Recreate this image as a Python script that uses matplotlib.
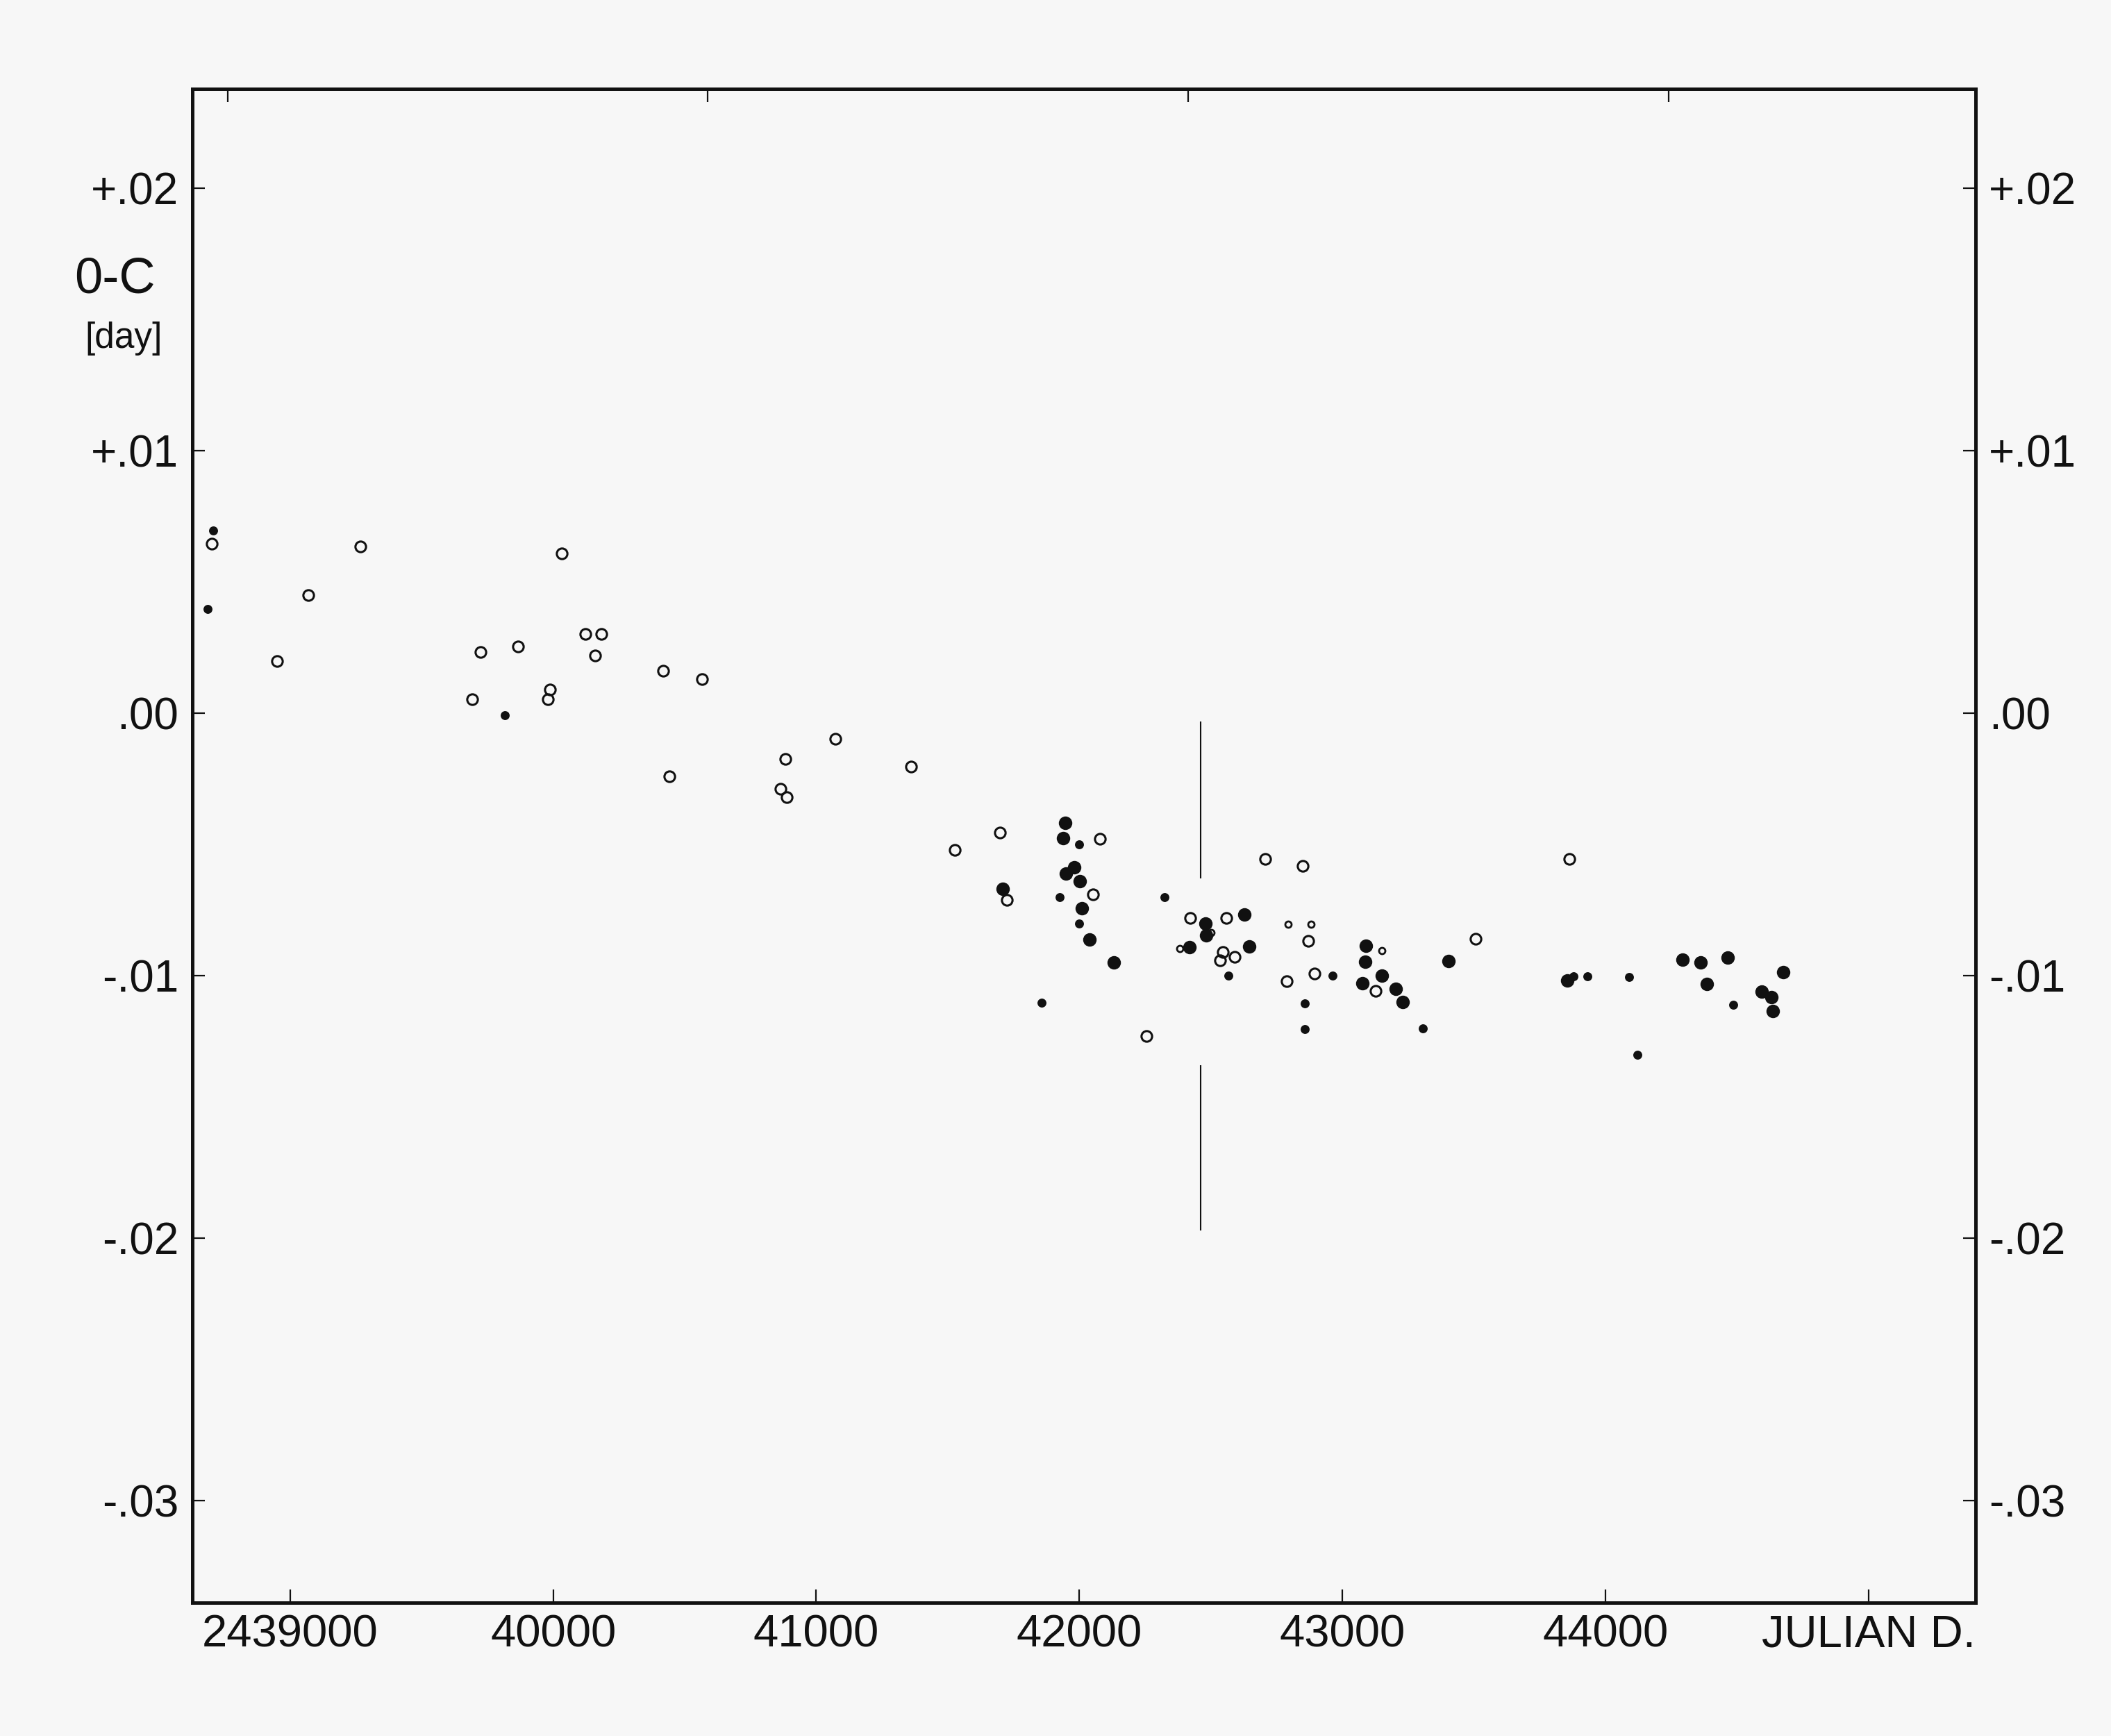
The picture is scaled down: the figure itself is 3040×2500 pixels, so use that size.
import matplotlib
matplotlib.use('Agg')
import matplotlib.pyplot as plt
from matplotlib import font_manager

# O-C residuals [day] against Julian date (JD - 2400000)
# open circles
open_jd = [38701, 39266, 39070, 38951, 39723, 39867, 39691, 39987, 39979, 40033,
           40122, 40182, 40160, 40419, 40566, 40441, 41072, 40882, 40864, 40887,
           41360, 41527, 41698, 41724, 42078, 42053, 42422, 42560, 42545, 42535,
           42591, 42255, 42707, 42850, 42870, 42894, 42789, 43127, 43506, 43863]
open_oc = [0.00645, 0.00635, 0.00450, 0.00198, 0.00233, 0.00254, 0.00054, 0.00091, 0.00054, 0.00610,
           0.00302, 0.00302, 0.00220, 0.00162, 0.00131, -0.00240, -0.00096, -0.00175, -0.00287, -0.00320,
           -0.00203, -0.00520, -0.00453, -0.00711, -0.00478, -0.00690, -0.00780, -0.00780, -0.00910, -0.00942,
           -0.00929, -0.01229, -0.00556, -0.00582, -0.00867, -0.00991, -0.01020, -0.01057, -0.00859, -0.00556]

# small open circles
open_small_jd = [42501, 42383, 42795, 42880, 43151]
open_small_oc = [-0.00836, -0.00896, -0.00804, -0.00804, -0.00904]

# large dots
filled_jd = [41710, 41946, 41938, 41981, 41949, 42002, 42009, 42040, 42132, 42479,
             42483, 42418, 42627, 42647, 43090, 43088, 43151, 43076, 43203, 43229,
             43404, 43854, 44294, 44362, 44466, 44386, 44595, 44630, 44637, 44677]
filled_oc = [-0.00669, -0.00418, -0.00475, -0.00586, -0.00611, -0.00639, -0.00742, -0.00861, -0.00948, -0.00802,
             -0.00845, -0.00892, -0.00766, -0.00889, -0.00885, -0.00947, -0.01000, -0.01028, -0.01050, -0.01101,
             -0.00944, -0.01017, -0.00939, -0.00948, -0.00930, -0.01032, -0.01060, -0.01081, -0.01134, -0.00986]

# small dots
filled_small_jd = [38707, 38686, 39815, 41999, 41926, 42000, 41857, 42323, 42566, 42963,
                   42857, 42857, 43307, 43879, 43932, 44089, 44122, 44487]
filled_small_oc = [0.00696, 0.00397, -0.00006, -0.00499, -0.00699, -0.00801, -0.01103, -0.00700, -0.00999, -0.00998,
                   -0.01104, -0.01204, -0.01200, -0.01002, -0.01002, -0.01004, -0.01301, -0.01110]

# vertical marker line (broken around the data)
vline_jd = 42461
vline_top = [-0.0003, -0.0134]
vline_bottom = [-0.0063, -0.0197]

x_ticks = [39000, 40000, 41000, 42000, 43000, 44000, 45000]
x_tick_labels = ['2439000', '40000', '41000', '42000', '43000', '44000', 'JULIAN D.']
y_ticks = [0.02, 0.01, 0.0, -0.01, -0.02, -0.03]
y_tick_labels = ['+.02', '+.01', '.00', '-.01', '-.02', '-.03']
# unlabelled ticks on the top edge: 1965, 1970, 1975, 1980 (Jan 1)
top_ticks = [38761.5, 40587.5, 42413.5, 44239.5]

installed = {f.name for f in font_manager.fontManager.ttflist}
font = 'Liberation Sans' if 'Liberation Sans' in installed else 'DejaVu Sans'
plt.rcParams['font.family'] = [font, 'DejaVu Sans']

ink = '#111111'
paper = '#f7f7f7'

fig = plt.figure(figsize=(30.4, 25), dpi=100, facecolor=paper)
ax = fig.add_axes([0.0911, 0.0768, 0.8447, 0.872], facecolor=paper)

ax.plot(open_jd, open_oc, 'o', ls='none', ms=11, mfc='none', mec=ink, mew=2.2)
ax.plot(open_small_jd, open_small_oc, 'o', ls='none', ms=6.5, mfc='none', mec=ink, mew=2.0)
ax.plot(filled_jd, filled_oc, 'o', ls='none', ms=14, mfc=ink, mec=ink, mew=0)
ax.plot(filled_small_jd, filled_small_oc, 'o', ls='none', ms=9.3, mfc=ink, mec=ink, mew=0)
ax.vlines([vline_jd] * 2, vline_bottom, vline_top, color=ink, lw=1.5)

ax.set_xlim(38628, 45407)
ax.set_ylim(-0.03388, 0.02379)

ax.set_xticks(x_ticks)
ax.set_xticklabels(x_tick_labels, fontsize=47, color=ink)
ax.set_yticks(y_ticks)
ax.set_yticklabels(y_tick_labels, fontsize=46, color=ink)
ax.tick_params(axis='x', direction='in', length=14, width=1.6, pad=12, colors=ink)
ax.tick_params(axis='y', direction='in', length=13, width=1.6, pad=14, colors=ink,
               right=True, labelright=True, labelsize=46)

ax_top = ax.twiny()
ax_top.set_xlim(ax.get_xlim())
ax_top.set_xticks(top_ticks)
ax_top.set_xticklabels([])
ax_top.tick_params(axis='x', direction='in', length=14, width=1.6, colors=ink)

for a in (ax, ax_top):
    for s in a.spines.values():
        s.set_linewidth(3.4)
        s.set_color(ink)

fig.text(0.0352, 0.839, '0-C', fontsize=52, color=ink, va='center', ha='left')
fig.text(0.0585, 0.805, '[day]', fontsize=37, color=ink, va='center', ha='center')

fig.savefig('out.png', dpi=100, facecolor=paper)
